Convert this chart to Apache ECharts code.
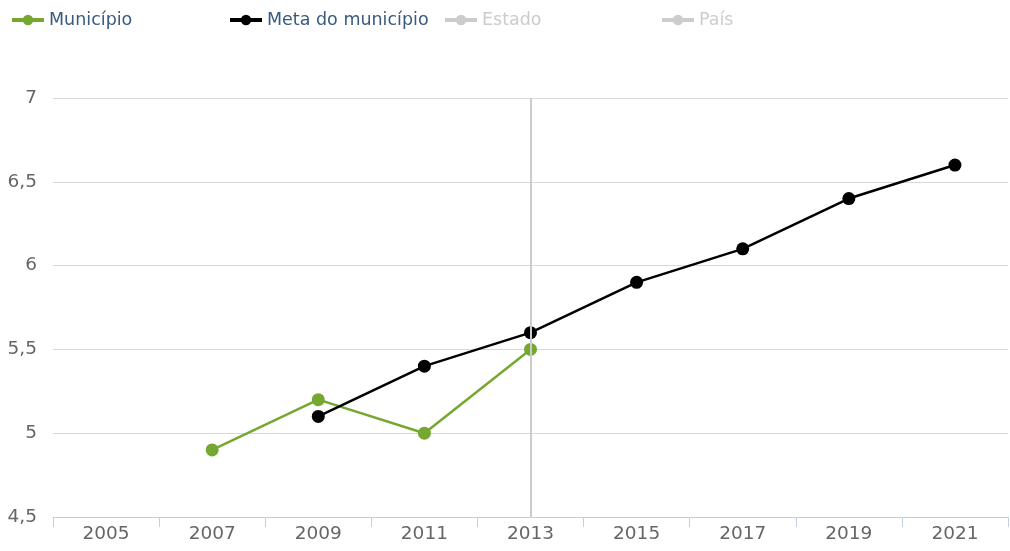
<!DOCTYPE html>
<html>
<head>
<meta charset="utf-8">
<title>Município</title>
<script src="https://cdn.jsdelivr.net/npm/echarts@6/dist/echarts.min.js"></script>
<style>
  html, body { margin: 0; padding: 0; background: #fff; }
  #chart { width: 1010px; height: 551px; }
</style>
</head>
<body>
<div id="chart"></div>
<script type="text/javascript">
    // dados
    var anos = ['2005', '2007', '2009', '2011', '2013', '2015', '2017', '2019', '2021'];
    var municipio = [null, 4.9, 5.2, 5.0, 5.5, null, null, null, null];
    var metaMunicipio = [null, null, 5.1, 5.4, 5.6, 5.9, 6.1, 6.4, 6.6];
    var estado = [];
    var pais = [];
    var yTicks = [4.5, 5, 5.5, 6, 6.5, 7];

    var chart = echarts.init(document.getElementById('chart'));

    var fonte = '"DejaVu Sans", sans-serif';
    var corTexto = '#3a5a80';

    function legenda(nome, x) {
      return {
        data: [nome],
        left: x,
        top: 6,
        itemWidth: 32,
        itemHeight: 13,
        inactiveColor: '#cccccc',
        inactiveBorderColor: '#cccccc',
        lineStyle: { width: 4, inactiveWidth: 4, inactiveColor: '#cccccc' },
        textStyle: { color: corTexto, fontSize: 17.5, fontFamily: fonte },
        selected: { 'Estado': false, 'País': false }
      };
    }

    var option = {
      animation: false,
      legend: [
        legenda('Município', 5),
        legenda('Meta do município', 223),
        legenda('Estado', 438),
        legenda('País', 655)
      ],
      grid: { left: 53, right: 2, top: 98, bottom: 34 },
      xAxis: {
        type: 'category',
        data: anos,
        boundaryGap: true,
        axisLine: { lineStyle: { color: '#c0d0e0', width: 1 } },
        axisTick: { show: true, length: 10, lineStyle: { color: '#c0d0e0' } },
        axisLabel: { color: '#666666', fontSize: 18.5, fontFamily: fonte, margin: 8 },
        splitLine: { show: false }
      },
      yAxis: {
        type: 'value',
        min: yTicks[0],
        max: yTicks[yTicks.length - 1],
        interval: 0.5,
        axisLine: { show: false },
        axisTick: { show: false },
        axisLabel: {
          color: '#666666', fontSize: 18.5, fontFamily: fonte, margin: 16,
          formatter: function (v) { return String(v).replace('.', ','); }
        },
        splitLine: { lineStyle: { color: '#d8d8d8', width: 1 } }
      },
      series: [
        {
          name: 'Município',
          type: 'line',
          data: municipio,
          color: '#76a831',
          symbol: 'circle',
          symbolSize: 13,
          lineStyle: { width: 2.5 },
          markLine: {
            silent: true,
            symbol: 'none',
            label: { show: false },
            lineStyle: { color: '#cccccc', type: 'solid', width: 2 },
            data: [{ xAxis: '2013' }]
          },
          z: 3
        },
        {
          name: 'Meta do município',
          type: 'line',
          data: metaMunicipio,
          color: '#000000',
          symbol: 'circle',
          symbolSize: 13,
          lineStyle: { width: 2.5 },
          z: 4
        },
        {
          name: 'Estado',
          type: 'line',
          data: estado,
          color: '#cccccc',
          symbol: 'circle',
          symbolSize: 13
        },
        {
          name: 'País',
          type: 'line',
          data: pais,
          color: '#cccccc',
          symbol: 'circle',
          symbolSize: 13
        }
      ]
    };

    chart.setOption(option);
</script>
</body>
</html>
